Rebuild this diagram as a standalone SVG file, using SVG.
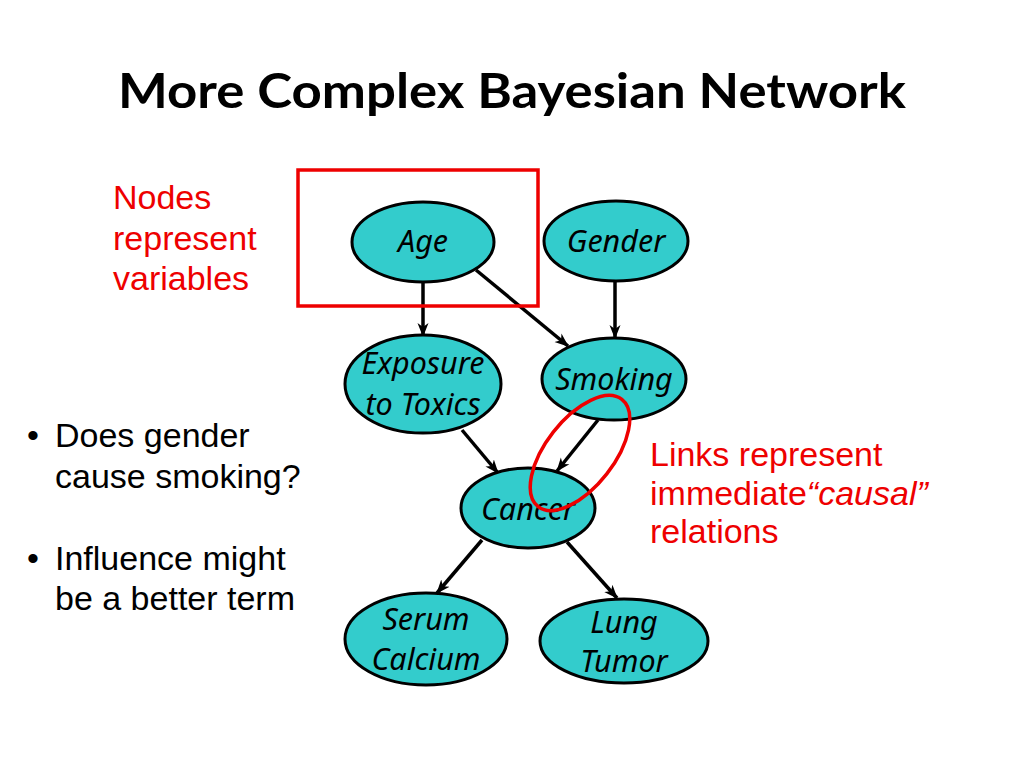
<svg xmlns="http://www.w3.org/2000/svg" width="1024" height="768" viewBox="0 0 1024 768">
<style>
.node ellipse{fill:#33CCCC;stroke:#000;stroke-width:3}
.node text{font-family:"Noto Sans","Open Sans",sans-serif;font-style:italic;font-size:30.5px;fill:#000;text-anchor:middle}
.edge{stroke:#000;stroke-width:3.5;fill:none;marker-end:url(#arr)}
.red{font-family:"Liberation Sans",Arial,sans-serif;font-size:34px;fill:#EE0000}
.blk{font-family:"Liberation Sans",Arial,sans-serif;font-size:34px;fill:#000}
</style>
<defs>
<marker id="arr" markerUnits="userSpaceOnUse" markerWidth="14" markerHeight="14" viewBox="0 0 14 14" refX="13" refY="7" orient="auto">
<path d="M0,1.5 L14,7 L0,12.5 L4,7 z" fill="#000"/>
</marker>
</defs>
<rect width="1024" height="768" fill="#fff"/>
<text x="512" y="108" text-anchor="middle" font-family="Lato,'Open Sans',sans-serif" font-weight="bold" font-size="48" textLength="788" lengthAdjust="spacingAndGlyphs" fill="#000">More Complex Bayesian Network</text>

<g id="edges">
<line class="edge" x1="423" y1="282" x2="423" y2="336"/>
<line class="edge" x1="476" y1="270" x2="568" y2="346"/>
<line class="edge" x1="615" y1="282" x2="615" y2="338"/>
<line class="edge" x1="462" y1="430" x2="498" y2="473"/>
<line class="edge" x1="598" y1="420" x2="557" y2="471"/>
<line class="edge" x1="482" y1="540" x2="437" y2="593"/>
<line class="edge" x1="567" y1="542" x2="617" y2="598"/>
</g>

<g id="node-age" class="node"><ellipse cx="423" cy="242" rx="71" ry="40"/><text x="423" y="252">Age</text></g>
<g id="node-gender" class="node"><ellipse cx="616" cy="241" rx="72" ry="40"/><text x="616" y="252">Gender</text></g>
<g id="node-exposure" class="node"><ellipse cx="423" cy="384" rx="78" ry="49"/><text x="423" y="374">Exposure</text><text x="423" y="415">to Toxics</text></g>
<g id="node-smoking" class="node"><ellipse cx="614" cy="379" rx="72" ry="41"/><text x="614" y="390">Smoking</text></g>
<g id="node-cancer" class="node"><ellipse cx="528" cy="508" rx="67" ry="40"/><text x="528" y="520">Cancer</text></g>
<g id="node-serum" class="node"><ellipse cx="426" cy="639" rx="81" ry="46"/><text x="426" y="630">Serum</text><text x="426" y="670">Calcium</text></g>
<g id="node-lung" class="node"><ellipse cx="624" cy="641" rx="84" ry="42"/><text x="624" y="633">Lung</text><text x="624" y="672">Tumor</text></g>

<g id="annotations">
<rect x="298" y="170" width="240" height="136" fill="none" stroke="#EE0000" stroke-width="3.5"/>
<ellipse cx="580" cy="453" rx="68" ry="34" transform="rotate(-52 580 453)" fill="none" stroke="#EE0000" stroke-width="3.5"/>
<text class="red" x="113" y="209">Nodes</text>
<text class="red" x="113" y="250">represent</text>
<text class="red" x="113" y="290">variables</text>
<text class="red" x="650" y="466">Links represent</text>
<text class="red" x="650" y="505">immediate<tspan font-style="italic">“causal”</tspan></text>
<text class="red" x="650" y="543">relations</text>
<text class="blk" x="27" y="447">•</text>
<text class="blk" x="55" y="447">Does gender</text>
<text class="blk" x="55" y="488">cause smoking?</text>
<text class="blk" x="27" y="570">•</text>
<text class="blk" x="55" y="570">Influence might</text>
<text class="blk" x="55" y="610">be a better term</text>
</g>
</svg>
